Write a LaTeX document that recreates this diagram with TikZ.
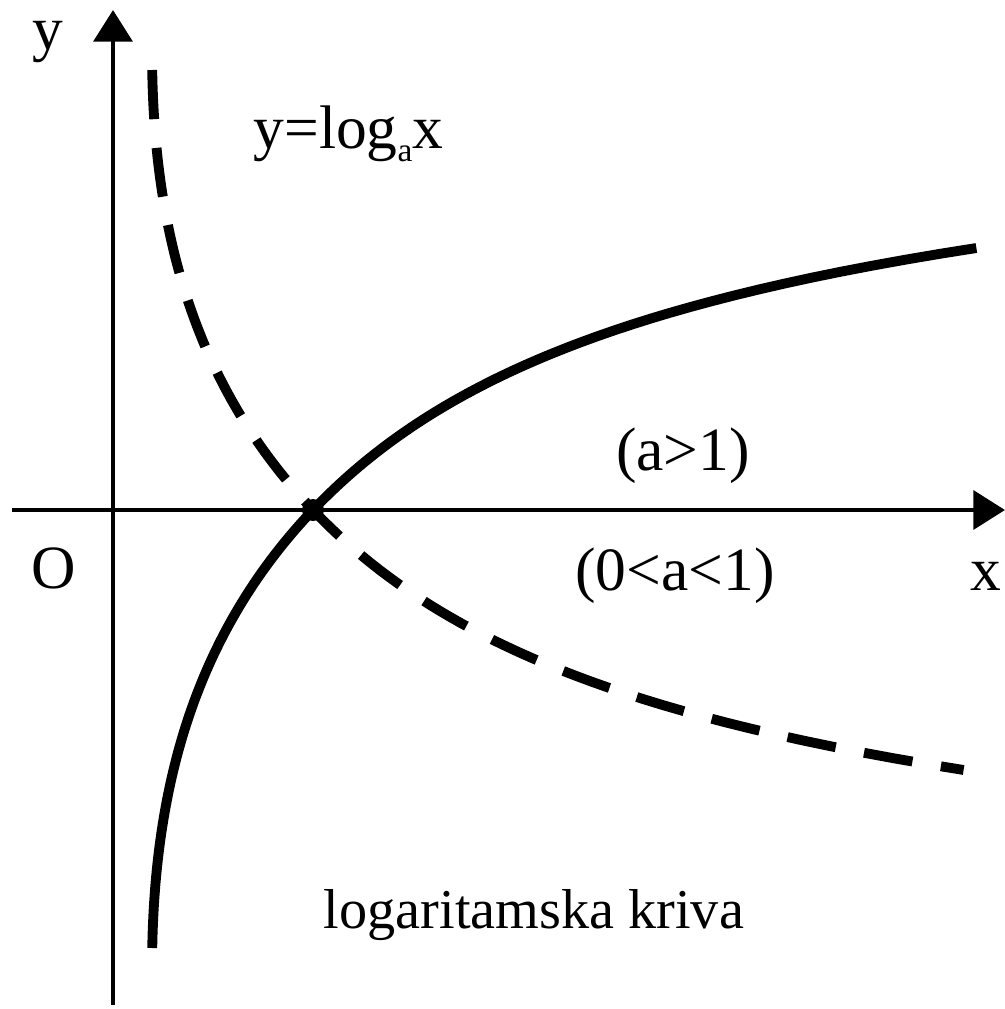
\documentclass[tikz,border=0pt]{standalone}
\usepackage{fontspec}
\setmainfont{Liberation Serif}
\usetikzlibrary{arrows.meta}

\tikzset{
    osa/.style={line width=1.3pt, ->},
    kriva/.style={line width=2.8pt},
    oznaka/.style={inner sep=0pt, anchor=base},
    declare function={
        koef(\y)=2.1+(\y<0)*0.0016*\y*\y*\y*\y-(\y>0)*0.045*\y*\y;
        xlog(\y)=2*exp(\y/koef(\y));
    },
}

\begin{document}
\begin{tikzpicture}[>={Triangle[length=9pt, width=11pt]}, font=\fontsize{17.5}{20}\selectfont]
    \useasboundingbox (-1.13,-4.99) rectangle (8.92,5.10);
    % koordinatne ose
    \draw[osa] (-1.01,0) -- (8.92,0);
    \draw[osa] (0,-4.95) -- (0,5.00);
    % kriva za a>1 (puna linija)
    \draw[kriva] plot[domain=-4.38:2.62, samples=120, variable=\t] ({xlog(\t)}, \t);
    % kriva za 0<a<1 (isprekidana linija)
    \draw[kriva, dash pattern=on 14pt off 8.2pt] plot[domain=-4.40:2.60, samples=120, variable=\t] ({xlog(\t)}, -\t);
    % tacka (1,0)
    \fill (2,0) circle (0.11);
    % oznake
    \node[oznaka] (yosa) at (-0.65,4.61) {y};
    \node[oznaka] (xosa) at (8.73,-0.80) {x};
    \node[oznaka] (ishod) at (-0.59,-0.78) {O};
    \node[oznaka, anchor=base west] (formula) at (1.40,3.62) {y=log\raisebox{-0.22em}{\fontsize{9.5}{10}\selectfont a}x};
    \node[oznaka] (veceod) at (5.70,0.40) {(a>1)};
    \node[oznaka] (manjeod) at (5.62,-0.80) {(0<a<1)};
    \node[oznaka, font=\fontsize{16}{18}\selectfont] (naslov) at (4.21,-4.18) {logaritamska kriva};
\end{tikzpicture}
\end{document}
